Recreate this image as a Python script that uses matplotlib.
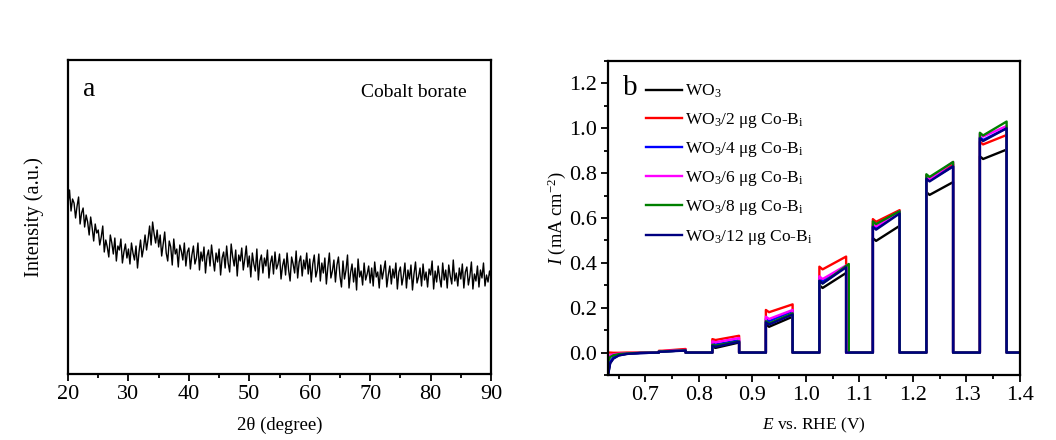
import matplotlib
matplotlib.use("Agg")
import matplotlib.pyplot as plt
import numpy as np

plt.rcParams['font.family'] = ['Liberation Serif', 'DejaVu Serif']
plt.rcParams['mathtext.fontset'] = 'custom'
plt.rcParams['mathtext.rm'] = 'Liberation Serif'
plt.rcParams['mathtext.it'] = 'Liberation Serif:italic'

# ---- panel a : XRD of cobalt borate (0.25 deg step) ----
two_theta_start = 20.0
two_theta_step = 0.25
xrd_intensity = [
    170, 184, 163, 175, 171, 156, 168, 177, 150, 161, 166, 147, 159, 152, 139, 157, 146, 133, 150, 141,
    144, 129, 137, 148, 122, 134, 127, 117, 139, 131, 120, 136, 113, 128, 124, 135, 111, 122, 130, 116,
    125, 110, 131, 121, 114, 128, 106, 122, 134, 117, 126, 139, 124, 135, 148, 129, 152, 140, 131, 144,
    127, 139, 118, 130, 142, 121, 113, 133, 127, 109, 135, 120, 125, 107, 129, 123, 114, 131, 108, 122,
    126, 105, 119, 128, 110, 116, 131, 104, 122, 113, 127, 101, 118, 124, 108, 129, 115, 103, 121, 112,
    125, 99, 116, 122, 106, 128, 111, 102, 130, 117, 108, 124, 98, 119, 113, 126, 104, 115, 128, 107,
    118, 97, 121, 110, 103, 125, 94, 113, 119, 101, 116, 108, 124, 96, 111, 118, 100, 122, 105, 110,
    120, 95, 108, 115, 99, 121, 104, 93, 117, 110, 101, 123, 96, 112, 118, 98, 114, 105, 121, 100,
    115, 92, 110, 119, 97, 104, 120, 93, 111, 101, 116, 90, 107, 121, 96, 103, 114, 92, 109, 117,
    98, 87, 113, 95, 104, 119, 86, 101, 110, 92, 106, 84, 115, 97, 103, 89, 111, 94, 100, 108,
    91, 106, 88, 112, 97, 102, 86, 109, 95, 104, 113, 87, 99, 108, 90, 105, 96, 111, 85, 102,
    107, 89, 98, 111, 86, 104, 95, 109, 84, 100, 112, 91, 97, 106, 88, 110, 94, 102, 87, 105,
    99, 113, 85, 103, 92, 108, 96, 87, 111, 94, 104, 86, 109, 98, 90, 114, 93, 101, 88, 106,
    95, 110, 86, 102, 107, 89, 98, 112, 85, 100, 93, 108, 87, 104, 96, 111, 88, 99, 92, 103,
    96,
]
two_theta = two_theta_start + two_theta_step * np.arange(len(xrd_intensity))

# ---- panel b : chopped-light LSV ----
labels = ['WO$_3$', 'WO$_3$/2 μg Co-B$_\\mathregular{i}$', 'WO$_3$/4 μg Co-B$_\\mathregular{i}$',
          'WO$_3$/6 μg Co-B$_\\mathregular{i}$', 'WO$_3$/8 μg Co-B$_\\mathregular{i}$',
          'WO$_3$/12 μg Co-B$_\\mathregular{i}$']
colors = ['black', 'red', 'blue', '#ff00ff', '#008000', '#000080']

light_on = [0.725, 0.825, 0.925, 1.025, 1.125, 1.225, 1.325]
light_off = [0.775, 0.875, 0.975, 1.075, 1.175, 1.275, 1.375]
spike_dip = [0.0, 0.004, 0.010, 0.012, 0.012, 0.012, 0.012]

# initial dark transient
e_init = [0.630, 0.634, 0.640, 0.650, 0.665, 0.690]
i_init = [
    [-0.100, -0.045, -0.025, -0.012, -0.006, -0.002],
    [0.000, 0.000, -0.001, -0.001, 0.000, 0.000],
    [-0.090, -0.040, -0.022, -0.010, -0.005, -0.002],
    [-0.020, -0.012, -0.008, -0.005, -0.003, -0.001],
    [-0.040, -0.020, -0.012, -0.007, -0.004, -0.001],
    [-0.100, -0.048, -0.027, -0.013, -0.006, -0.002],
]
# photocurrent at light-on and just before light-off (mA cm-2)
i_on = [
    [0.005, 0.025, 0.125, 0.300, 0.510, 0.715, 0.875],
    [0.008, 0.060, 0.190, 0.383, 0.595, 0.790, 0.940],
    [0.005, 0.040, 0.150, 0.330, 0.565, 0.780, 0.960],
    [0.006, 0.050, 0.160, 0.340, 0.575, 0.785, 0.975],
    [0.005, 0.035, 0.140, 0.320, 0.585, 0.795, 0.980],
    [0.004, 0.030, 0.135, 0.320, 0.560, 0.775, 0.955],
]
i_off = [
    [0.010, 0.045, 0.160, 0.355, 0.565, 0.760, 0.905],
    [0.016, 0.075, 0.215, 0.428, 0.635, 0.840, 0.970],
    [0.010, 0.055, 0.185, 0.385, 0.625, 0.830, 1.000],
    [0.012, 0.065, 0.190, 0.390, 0.630, 0.850, 1.010],
    [0.010, 0.050, 0.175, 0.395, 0.630, 0.850, 1.030],
    [0.009, 0.048, 0.170, 0.380, 0.620, 0.830, 1.000],
]
# the 8 ug sample switches off a little late in the 4th pulse
off_lag = [
    [0, 0, 0, 0, 0, 0, 0],
    [0, 0, 0, 0, 0, 0, 0],
    [0, 0, 0, 0, 0, 0, 0],
    [0, 0, 0, 0.001, 0, 0, 0],
    [0, 0, 0, 0.005, 0, 0, 0],
    [0, 0, 0, 0, 0, 0, 0],
]
e_end = 1.40

fig = plt.figure(figsize=(10.56, 4.4), dpi=100)
ax1 = fig.add_axes([0.0644, 0.15, 0.4006, 0.7136])
ax2 = fig.add_axes([0.5758, 0.1477, 0.3901, 0.7137])

# panel a
ax1.plot(two_theta, xrd_intensity, color='black', lw=1.0)
ax1.set_xlim(20, 90)
ax1.set_ylim(0, 314)
ax1.set_xticks(np.arange(20, 91, 10))
ax1.set_xticks(np.arange(25, 90, 10), minor=True)
ax1.set_yticks([])
ax1.set_xlabel('2θ (degree)', fontsize=13.5, labelpad=9)
ax1.set_ylabel('Intensity (a.u.)', fontsize=14.8, labelpad=17)
ax1.text(0.035, 0.905, 'a', transform=ax1.transAxes, fontsize=20, va='center', ha='left')
ax1.text(0.943, 0.895, 'Cobalt borate', transform=ax1.transAxes, fontsize=14, va='center', ha='right')

# panel b
for k in range(len(labels)):
    xs = list(e_init)
    ys = list(i_init[k])
    for j in range(len(light_on)):
        t_on = light_on[j]
        t_off = light_off[j] + off_lag[k][j]
        xs += [t_on, t_on, t_on + 0.006, t_off, t_off]
        ys += [0.0, i_on[k][j], i_on[k][j] - spike_dip[j], i_off[k][j], 0.0]
    xs.append(e_end)
    ys.append(0.0)
    ax2.plot(xs, ys, color=colors[k], lw=1.7, label=labels[k])

ax2.set_xlim(0.63, 1.40)
ax2.set_ylim(-0.1, 1.3)
ax2.set_xticks(np.arange(0.7, 1.41, 0.1))
ax2.set_xticks(np.arange(0.65, 1.40, 0.1), minor=True)
ax2.set_yticks(np.arange(0.0, 1.21, 0.2))
ax2.set_yticks(np.arange(-0.1, 1.31, 0.2), minor=True)
ax2.xaxis.set_major_formatter(matplotlib.ticker.FormatStrFormatter('%.1f'))
ax2.yaxis.set_major_formatter(matplotlib.ticker.FormatStrFormatter('%.1f'))
ax2.set_xlabel('$E$ vs. RHE (V)', fontsize=12.5, labelpad=8)
ax2.set_ylabel('$I$ (mA cm$^{-2}$)', fontsize=13.3, labelpad=1)
ax2.text(0.035, 0.915, 'b', transform=ax2.transAxes, fontsize=21, va='center', ha='left')
ax2.legend(loc='upper left', bbox_to_anchor=(0.093, 0.93), frameon=False, fontsize=12.5,
           handlelength=2.05, handletextpad=0.2, labelspacing=0.59, borderpad=0, borderaxespad=0)

for ax in (ax1, ax2):
    for s in ax.spines.values():
        s.set_linewidth(1.6)
    ax.tick_params(which='both', direction='out', top=False, right=False, labelsize=16, width=1.3)
    ax.tick_params(which='major', length=5, pad=3)
    ax.tick_params(which='minor', length=3)

fig.savefig('out.png', dpi=100)
